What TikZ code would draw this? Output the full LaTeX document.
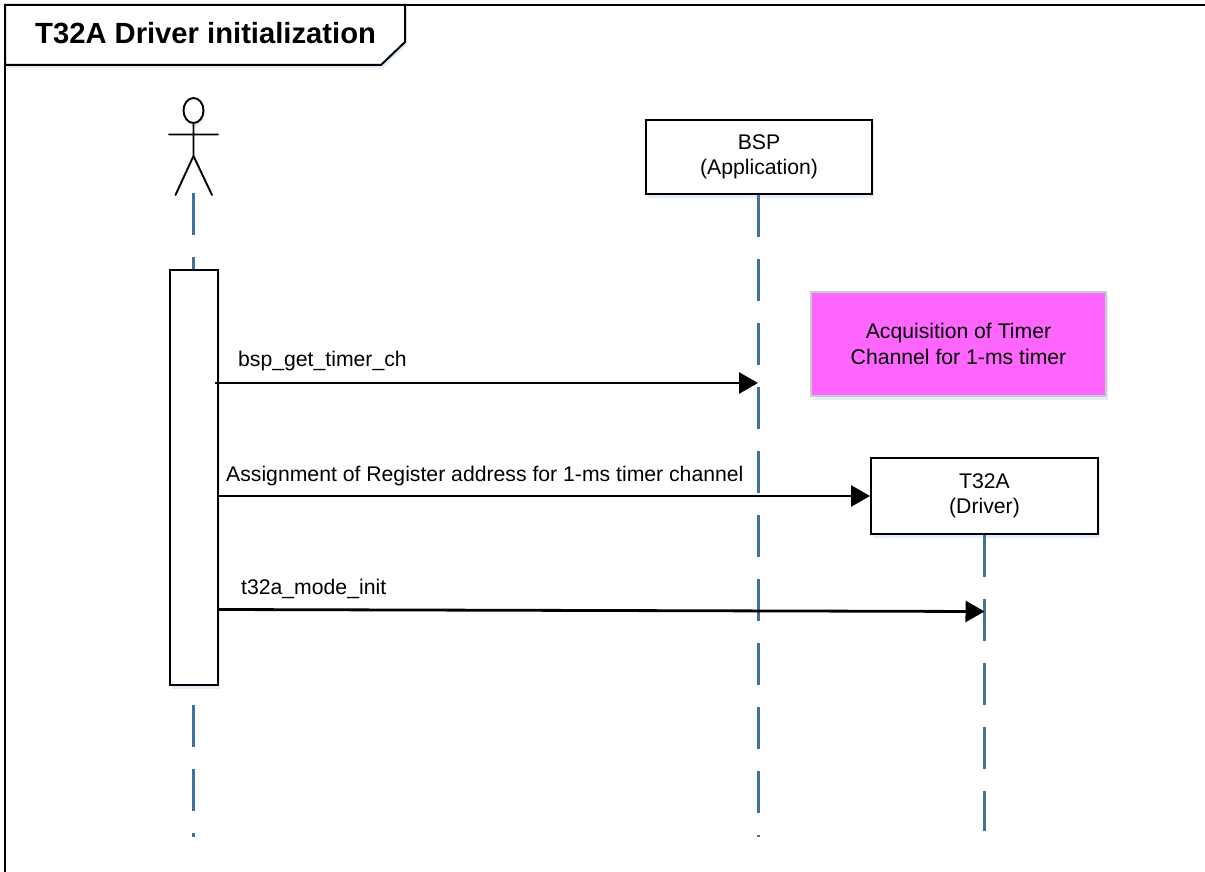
\documentclass[tikz,border=0pt]{standalone}
\usepackage{fontspec}
\setmainfont{Liberation Sans}
\usetikzlibrary{arrows.meta,shadows,shapes.geometric}
\definecolor{lifeblue}{HTML}{41719C}
\definecolor{notepink}{HTML}{FF66FF}
\definecolor{notegray}{HTML}{C8CCD0}
\definecolor{shadeblue}{HTML}{5B9BD5}

\begin{document}
\begin{tikzpicture}[x=1pt,y=-1pt,>={Triangle[length=19pt,width=21pt]},
    soft shadow/.style={drop shadow={fill=shadeblue,opacity=0.16,shadow xshift=1.5pt,shadow yshift=-3.5pt}},
    main node/.style={rectangle,draw=black,line width=2pt,fill=white,align=center,font=\fontsize{21.2}{25.5}\selectfont,inner sep=0pt,soft shadow},
    note node/.style={rectangle,draw=notegray,line width=2pt,fill=notepink,align=center,font=\fontsize{21.2}{25.5}\selectfont,inner sep=0pt,soft shadow},
    label node/.style={anchor=base west,inner sep=0pt,font=\fontsize{21.2}{25}\selectfont},
    lifeline/.style={draw=lifeblue,line width=2.6pt,dash pattern=on 42pt off 22pt},
    message/.style={->,line width=2.8pt},
    figure line/.style={line width=1.9pt,line cap=round}]

  \useasboundingbox (0,0) rectangle (1205,872);
  \fill[white] (0,0) rectangle (1205,872);

  % frame and title
  \draw[line width=2pt] (1205,5) -- (5,5) -- (5,872);
  \draw[line width=2pt,fill=white,soft shadow] (5,5) -- (405,5) -- (405,42) -- (381,65) -- (5,65) -- cycle;
  \node[anchor=base west,inner sep=0pt,font=\fontsize{29.2}{34}\selectfont\bfseries] (title) at (35,43.5) {T32A Driver initialization};

  % lifelines
  \coordinate (actor foot) at (193.5,193);
  \coordinate (actor end) at (193.5,837);
  \coordinate (bsp end) at (758.5,837);
  \coordinate (t32a end) at (984.5,831);
  \node[main node,minimum width=226pt,minimum height=74pt] (bsp) at (759,157) {BSP\\(Application)};
  \node[main node,minimum width=227pt,minimum height=76pt] (t32a) at (984.5,496) {T32A\\(Driver)};
  \node[note node,minimum width=295pt,minimum height=104pt] (note) at (958.5,344) {Acquisition of Timer\\Channel for 1-ms timer};

  \path[lifeline] (bsp.south -| bsp end) -- (bsp end);
  \path[lifeline] (actor foot) -- (actor end);
  \path[lifeline] (t32a.south) -- (t32a end);

  % actor
  \node[draw,ellipse,figure line,minimum width=20pt,minimum height=25pt,inner sep=0pt,soft shadow,fill=white] (head) at (193.5,110.5) {};
  \coordinate (crotch) at (193.5,156);
  \coordinate (arm left) at (169,134.5);
  \coordinate (arm right) at (218,134.5);
  \coordinate (foot left) at (175.5,195);
  \coordinate (foot right) at (212,195);
  \draw[figure line] (head.south) -- (crotch) (arm left) -- (arm right) (foot left) -- (crotch) -- (foot right);

  % activation
  \node[main node,minimum width=48pt,minimum height=415pt] (act) at (194,477.5) {};

  % messages
  \coordinate (m1 start) at (215,383);
  \coordinate (m1 end) at (758,383);
  \coordinate (m2 start) at (218,496);
  \coordinate (m3 start) at (218,609.5);
  \coordinate (m3 end) at (984.5,611.5);
  \draw[message] (m1 start) -- (m1 end);
  \draw[message] (m2 start) -- (t32a.west);
  \draw[message] (m3 start) -- (m3 end);

  \node[label node] (m1 label) at (238,366) {bsp\_get\_timer\_ch};
  \node[label node] (m2 label) at (226,481) {Assignment of Register address for 1-ms timer channel};
  \node[label node] (m3 label) at (241,594) {t32a\_mode\_init};
\end{tikzpicture}
\end{document}
